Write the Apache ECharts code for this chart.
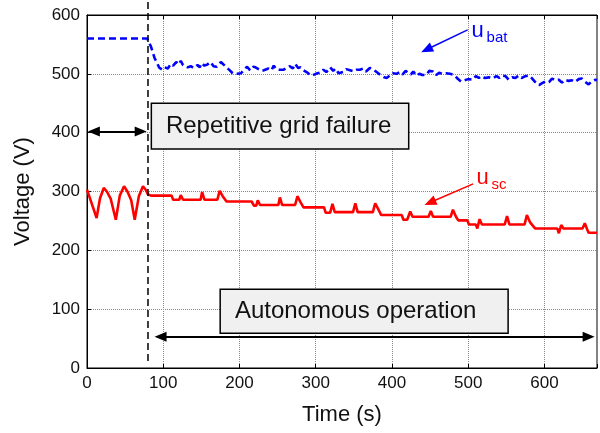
<!DOCTYPE html>
<html>
<head>
<meta charset="utf-8">
<script src="https://cdn.jsdelivr.net/npm/echarts@6/dist/echarts.min.js"></script>
<style>
html,body{margin:0;padding:0;background:#fff;}
#c{width:600px;height:433px;}
</style>
</head>
<body>
<div id="c"></div>
<script>
// ---- data ----
const xTicks = [0, 100, 200, 300, 400, 500, 600];
const yTicks = [0, 100, 200, 300, 400, 500, 600];

const timeBat = [0,79,84,88.6,95,99,102,106,110,113,117,121,123,126,132,136,140,145,148,150,154,158,162,166,170,175.6,179,184,188,191,197,202,206,210,214,218,221,225,229,232,238,242,245,248,252,258,262,266,270,273,277,280,284,288,292,295,300,306,310,314,319,323,326,330,336,340,345,350,354,358,362,366,371,375,379,382,386,390,393,397,401,406,410,414,418,421,425,428,432,436,440,445,449,453.7,458,462,466,471,476,482,486,490.6,495,500,506,510,514,517,522,527,532,537,541,545,549,553,558,562,566,570,575,580,584,588,593,597,601,606,610,614,619,623,627,632,636,640,645,649,653,658,662,667,669];
const volBat = [560,560,546,527,510,507,511,509,517,514,520,516,522,515,511,513,510,515,511,518,514,516,520,513,512,520,516,510,505,501,500,501,507,512,506,512,511,508,505,506,509,506,514,508,507,507,510,513,509,517,510,511,506,503,499,497,500,502,507,503,511,505,509,501,503,508,506,504,507,507,509,504,510,507,504,501,497,494,493,497,501,500,503,499,505,502,499,504,497,500,498,498,505,504,498,502,500,501,500,498,492,487,489,491,490,496,493,496,493,494,492,496,493,497,496,490,494,493,497,493,496,497,492,486,481,484,487,486,492,489,490,485,490,488,489,486,491,492,487,482,487,490,489];

const timeSc = [0,4,12.6,17,22,26,31,37.8,43,48.6,53,58,62.6,68,73.4,77,80,84,111,113,121,123,126,149,151,154,171,174,178,183,216,219,222,224,227,251,253,256,273,276,280,284,311,313,319,322,325,349,352,355,375,378,382,386,413,415,420,424,427,448,451,454,477,480,484,487,499,501,510,512,515,518,548,551,554,574,577,581,588,617,619,622,625,650,653,656,658,669];
const volSc = [303,288,255,288,306,300,288,252,293,309,300,285,252,292,309,303,295,293,293,286,286,294,286,286,299,286,286,301,292,283,283,276,276,285,277,277,290,277,277,292,282,273,273,264,264,279,265,265,280,265,265,280,270,260,260,252,252,266,257,257,267,257,257,269,257,251,251,244,244,237,253,244,244,258,244,244,260,248,237,237,229,243,237,237,246,236,230,230];

// annotation anchors (data coordinates)
const failureTime = [80, 80];
const failureLineV = [12, 625];
const labels = {
  axisX: 'Time (s)',
  axisY: 'Voltage (V)',
  box1: 'Repetitive grid failure',
  box2: 'Autonomous operation'
};

const pairs = (xs, ys) => xs.map((x, i) => [x, ys[i]]);
const FONT = '"Liberation Sans", Arial, Helvetica, sans-serif';

const chart = echarts.init(document.getElementById('c'), null, {renderer: 'canvas'});

const axisCommon = {
  type: 'value', min: 0, interval: 100,
  axisLine: {show: true, onZero: false, lineStyle: {color: '#000', width: 1}},
  axisTick: {show: true, inside: true, length: 4, lineStyle: {color: '#000'}},
};

const option = {
  animation: false,
  backgroundColor: '#fff',
  grid: {left: 87, right: 0, top: 15, bottom: 65, containLabel: false,
         show: true, borderColor: '#000', borderWidth: 1, backgroundColor: 'transparent'},
  xAxis: [
    Object.assign({}, axisCommon, {
      max: 669, position: 'bottom',
      name: labels.axisX, nameLocation: 'middle', nameGap: 36,
      nameTextStyle: {fontSize: 22, color: '#111', fontFamily: FONT},
      axisLabel: {fontSize: 17, color: '#111', fontFamily: FONT, margin: 7,
        formatter: v => (xTicks.indexOf(v) >= 0 ? String(v) : '')},
      splitLine: {show: true, lineStyle: {color: '#888', type: 'dotted', width: 1}}
    }),
    Object.assign({}, axisCommon, {
      max: 669, position: 'top',
      axisLabel: {show: false}, splitLine: {show: false}
    })
  ],
  yAxis: Object.assign({}, axisCommon, {
    max: 600,
    name: labels.axisY, nameLocation: 'middle', nameGap: 53,
    nameTextStyle: {fontSize: 22, color: '#111', fontFamily: FONT},
    axisLabel: {fontSize: 17, color: '#111', fontFamily: FONT, margin: 7,
      formatter: v => (yTicks.indexOf(v) >= 0 ? String(v) : '')},
    splitLine: {show: true, lineStyle: {color: '#888', type: 'dotted', width: 1}}
  }),
  series: [
    {
      name: 'u_bat', type: 'line', xAxisIndex: 0, showSymbol: false, symbol: 'none',
      data: pairs(timeBat, volBat),
      lineStyle: {color: '#0000ff', width: 2.6, type: [7, 4]}, z: 3
    },
    {
      name: 'u_sc', type: 'line', xAxisIndex: 0, showSymbol: false, symbol: 'none',
      data: pairs(timeSc, volSc),
      lineStyle: {color: '#ff0000', width: 2.6}, z: 3
    },
    {
      name: 'failure', type: 'line', xAxisIndex: 0, showSymbol: false, symbol: 'none',
      clip: false, silent: true,
      data: pairs(failureTime, failureLineV),
      lineStyle: {color: '#000', width: 1.5, type: [7, 4]}, z: 4,
      markLine: {
        silent: true, animation: false, label: {show: false},
        symbol: ['triangle', 'triangle'], symbolSize: [10, 12],
        lineStyle: {type: 'solid', color: '#000', width: 2},
        data: [
          [{coord: [9, 402]}, {coord: [70.4, 402]}],
          [{coord: [96.5, 53]}, {coord: [658, 53]}],
          [{coord: [499.3, 574.8], symbol: 'none', lineStyle: {color: '#0000ff', width: 1.5}},
           {coord: [445.5, 541.3], symbol: 'triangle', lineStyle: {color: '#0000ff', width: 1.5}}],
          [{coord: [506.5, 312.9], symbol: 'none', lineStyle: {color: '#ff0000', width: 1.5}},
           {coord: [450, 281.3], symbol: 'triangle', lineStyle: {color: '#ff0000', width: 1.5}}]
        ]
      }
    }
  ]
};
chart.setOption(option);

function px(x, y) { return chart.convertToPixel({seriesIndex: 0}, [x, y]); }

function box(x1, y1, x2, y2, text, textX) {
  const a = px(x1, y1), b = px(x2, y2), t = px(textX, (y1 + y2) / 2);
  return [
    {type: 'rect', z: 10, shape: {x: a[0], y: a[1], width: b[0] - a[0], height: b[1] - a[1]},
     style: {fill: '#f0f0f0', stroke: '#000', lineWidth: 1.5}},
    {type: 'text', z: 11, x: t[0], y: t[1],
     style: {text: text, fill: '#111', font: '24px ' + FONT, align: 'left', verticalAlign: 'middle'}}
  ];
}
function sublabel(x, y, main, sub, color) {
  const p = px(x, y);
  return [
    {type: 'text', z: 11, x: p[0], y: p[1],
     style: {text: main, fill: color, font: '22px ' + FONT, align: 'left', verticalAlign: 'bottom'}},
    {type: 'text', z: 11, x: p[0] + 15, y: p[1] + 4,
     style: {text: sub, fill: color, font: '15px ' + FONT, align: 'left', verticalAlign: 'bottom'}}
  ];
}

const graphics = [].concat(
  box(84.4, 450, 422, 372.4, labels.box1, 103.5),
  box(174.7, 133.8, 552.4, 59, labels.box2, 194),
  sublabel(504.5, 555, 'u', 'bat', '#0000ff'),
  sublabel(511, 305, 'u', 'sc', '#ff0000')
);
chart.setOption({graphic: graphics});
</script>
</body>
</html>
